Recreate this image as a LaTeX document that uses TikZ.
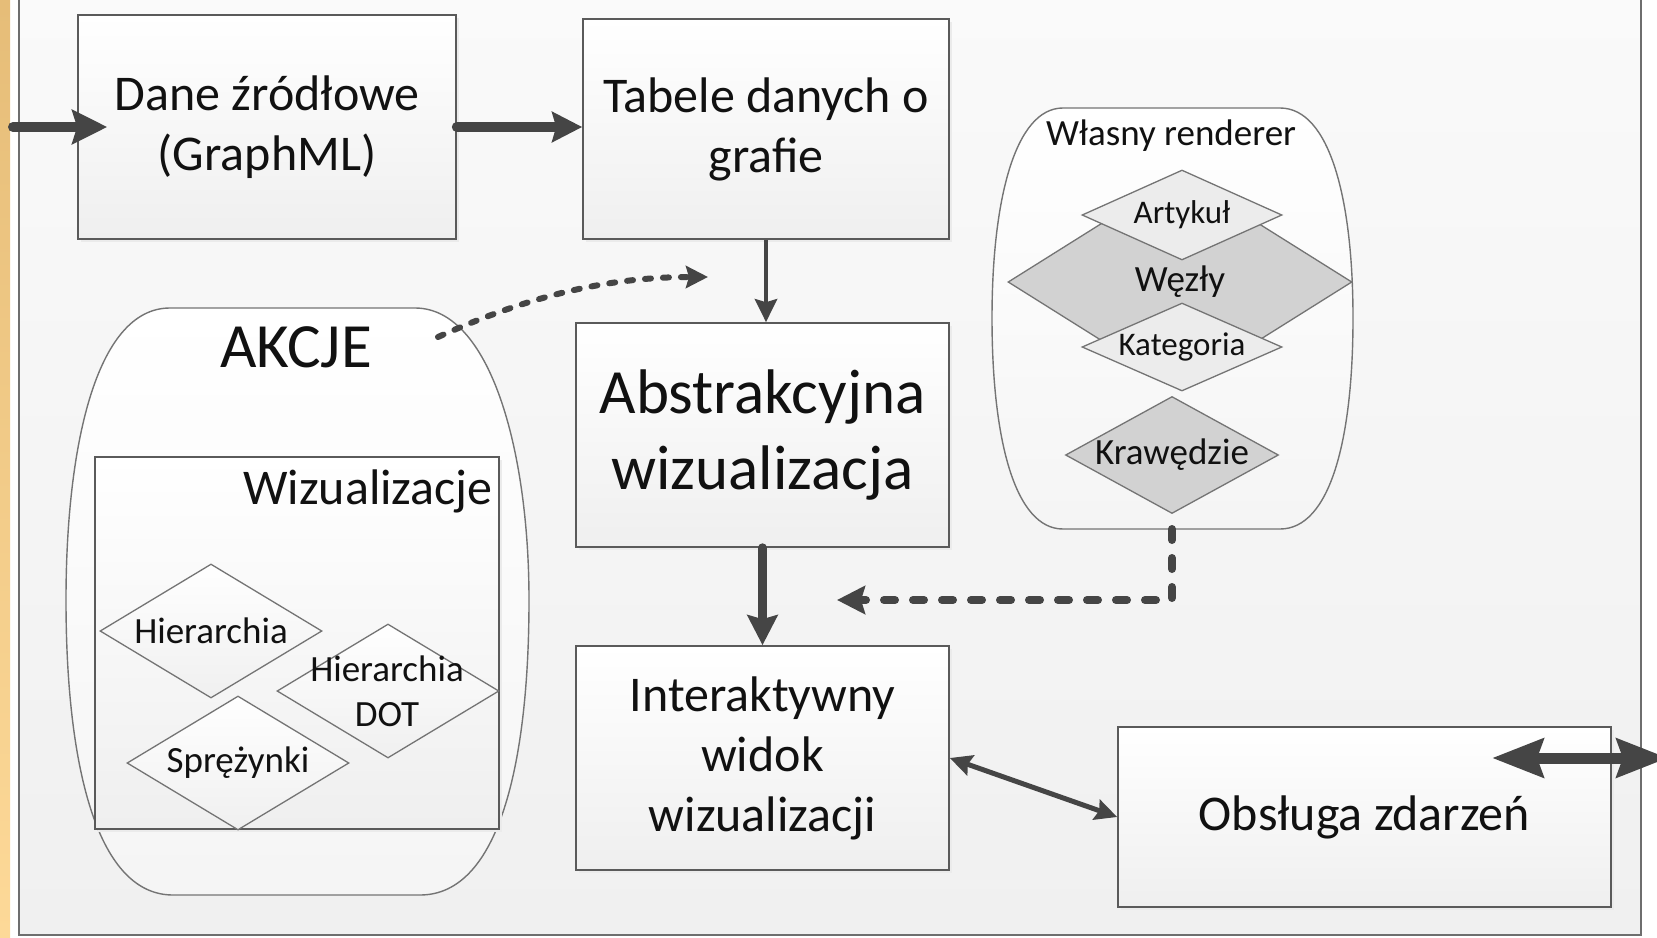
\documentclass[tikz,border=0pt]{standalone}
\usepackage{fontspec}
\setmainfont{Carlito}
\usetikzlibrary{arrows.meta,shapes.geometric}
\definecolor{arrc}{HTML}{454545}
\definecolor{edgec}{HTML}{5A5A5A}
\definecolor{thinc}{HTML}{747474}
\definecolor{txt}{HTML}{111111}
\definecolor{orangeA}{HTML}{E6BD78}
\definecolor{orangeB}{HTML}{FDD998}
\definecolor{bgtop}{HTML}{FAFAFA}
\definecolor{bgbot}{HTML}{F0F0F0}
\definecolor{framec}{HTML}{6E6E6E}
\definecolor{boxb}{HTML}{EFEFEF}
\definecolor{lightd}{HTML}{ECECEC}
\definecolor{darkd}{HTML}{D2D2D2}
\newcommand\fsz[2]{\fontsize{#1}{#2}\selectfont}
\begin{document}
\begin{tikzpicture}[x=1pt,y=-1pt,
  box/.style={rectangle, draw=edgec, line width=1.6pt, top color=white, bottom color=boxb,
    inner sep=0pt, align=center, text=txt,
    preaction={fill=black!8, transform canvas={shift={(3pt,-3pt)}}}},
  barrel/.style={draw=thinc, line width=1.4pt, top color=white, bottom color=white!96!black},
  dia/.style={diamond, draw=thinc, line width=1.3pt, inner sep=0pt, top color=white, bottom color=white!94!black},
  diadark/.style={diamond, draw=thinc, line width=1.3pt, inner sep=0pt, fill=darkd},
  dialight/.style={diamond, draw=thinc, line width=1.3pt, inner sep=0pt, fill=lightd},
  lbl/.style={text=txt, inner sep=0pt, align=center},
  conn/.style={draw=arrc, color=arrc},
]
\clip (0,0) rectangle (1657,937);
\fill[white] (0,0) rectangle (1657,937);
\shade[top color=orangeA, bottom color=orangeB] (0,0) rectangle (10,937);
\draw[draw=framec, line width=2.5pt, top color=bgtop, bottom color=bgbot] (19,-10) rectangle (1641,935);

% main boxes
\node[box, minimum width=378pt, minimum height=224pt, font=\fsz{50}{60}] (src) at (267,127) {Dane źródłowe\\(GraphML)};
\node[box, minimum width=366pt, minimum height=220pt, font=\fsz{50}{60}] (tab) at (766,129) {Tabele danych o\\grafie};
\node[box, minimum width=373pt, minimum height=224pt, font=\fsz{63}{76}] (abs) at (762.5,435) {Abstrakcyjna\\wizualizacja};
\node[box, minimum width=373pt, minimum height=224pt, font=\fsz{50}{60}] (int) at (762.5,758) {Interaktywny\\widok\\wizualizacji};
\node[box, minimum width=493pt, minimum height=180pt, font=\fsz{50}{60}] (obs) at (1364.5,817) {Obsługa zdarzeń};

% AKCJE
\draw[barrel] (170,308) -- (415,308) .. controls (490,308) and (529,450) .. (529,600)
  .. controls (529,760) and (500,895) .. (420,895) -- (173,895)
  .. controls (95,895) and (66,760) .. (66,600) .. controls (66,450) and (95,308) .. (170,308) -- cycle;
\node[lbl, font=\fsz{63}{76}] (akcje) at (296,347) {AKCJE};
\coordinate (akS) at (438,337);
\coordinate (akE) at (708,277);

\node[box, preaction={}, minimum width=404pt, minimum height=372pt] (wiz) at (297,643) {};
\node[lbl, font=\fsz{50}{60}, anchor=east] (wizT) at (493,491) {Wizualizacje};
\node[dia, minimum width=222pt, minimum height=134pt] (hier) at (211,631) {};
\node[lbl, font=\fsz{37}{45}] (hierT) at (hier) {Hierarchia};
\node[dia, minimum width=222pt, minimum height=134pt] (dot) at (388,691) {};
\node[lbl, font=\fsz{37}{45}] (dotT) at (387,691) {Hierarchia\\DOT};
\node[dia, minimum width=222pt, minimum height=134pt] (spr) at (238,763) {};
\node[lbl, font=\fsz{37}{45}] (sprT) at (spr) {Sprężynki};

% Wlasny renderer
\draw[barrel] (1063,108) -- (1280,108) .. controls (1330,108) and (1353,200) .. (1353,318)
  .. controls (1353,440) and (1330,529) .. (1280,529) -- (1063,529)
  .. controls (1015,529) and (992,440) .. (992,318) .. controls (992,200) and (1015,108) .. (1063,108) -- cycle;
\node[lbl, font=\fsz{37}{45}] (rendT) at (1171,136) {Własny renderer};
\node[diadark, minimum width=344pt, minimum height=216pt] (wez) at (1180,282) {};
\node[dialight, minimum width=200pt, minimum height=90pt] (art) at (1182,215) {};
\node[dialight, minimum width=200pt, minimum height=88pt] (kat) at (1182,347) {};
\node[diadark, minimum width=213pt, minimum height=117pt] (kra) at (1172,455) {};
\node[lbl, font=\fsz{37}{45}] (wezT) at (1180,282) {Węzły};
\node[lbl, font=\fsz{33}{40}] (artT) at (art) {Artykuł};
\node[lbl, font=\fsz{33}{40}] (katT) at (kat) {Kategoria};
\node[lbl, font=\fsz{37}{45}] (kraT) at (kra) {Krawędzie};
\coordinate (rendS) at (1172,529);
\coordinate (dashE) at (837,600);

% connectors
\coordinate (inL) at (13,127);
\draw[conn, line width=10pt, line cap=round, -{Stealth[length=35pt,width=34pt,inset=5pt]}] (inL) -- ([xshift=30pt]src.west);
\draw[conn, line width=10pt, line cap=round, -{Stealth[length=30pt,width=30pt,inset=4pt]}] (src.east) -- (src.east -| tab.west);
\draw[conn, line width=4.5pt, -{Stealth[length=23pt,width=22pt,inset=3pt]}] (tab.south) -- (tab.south |- abs.north);
\draw[conn, line width=9pt, line cap=round, -{Stealth[length=30pt,width=30pt,inset=4pt]}] (abs.south) -- (int.north);
\draw[conn, line width=8pt, line cap=round, dash pattern=on 11pt off 18pt, -{Stealth[length=28pt,width=28pt,inset=4pt]}] (rendS) |- (dashE);
\draw[conn, line width=6pt, line cap=round, dash pattern=on 6pt off 12pt, -{Stealth[length=22pt,width=22pt,inset=3pt]}] (akS) .. controls (520,300) and (600,277) .. (akE);
\draw[conn, line width=5pt, {Stealth[length=22pt,width=21pt,inset=3pt]}-{Stealth[length=22pt,width=21pt,inset=3pt]}] (int.east) -- (obs.west);
\coordinate (evL) at (1492,758);
\coordinate (evR) at (1668,758);
\draw[conn, line width=11pt, {Stealth[length=51pt,width=38pt,inset=6pt]}-{Stealth[length=51pt,width=38pt,inset=6pt]}] (evL) -- (evR);
\end{tikzpicture}
\end{document}
